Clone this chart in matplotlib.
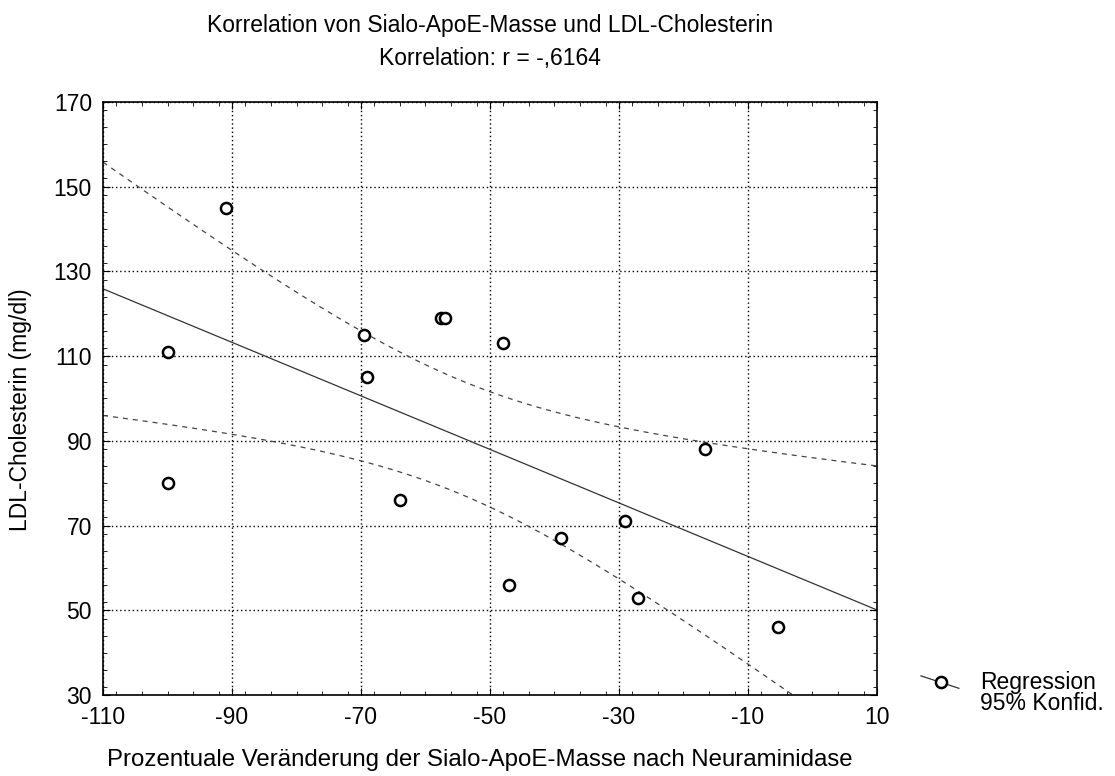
import numpy as np
import matplotlib.pyplot as plt
from matplotlib.lines import Line2D
from matplotlib.ticker import MultipleLocator

plt.rcParams['font.family'] = ['Liberation Sans', 'DejaVu Sans']
plt.rcParams['axes.unicode_minus'] = False

# Prozentuale Veraenderung Sialo-ApoE-Masse vs. LDL-Cholesterin
x = np.array([-91, -100, -100, -69.5, -69, -57.6, -57, -48, -64, -47, -39, -29, -27, -16.7, -5.4])
y = np.array([145, 111, 80, 115, 105, 119, 119, 113, 76, 56, 67, 71, 53, 88, 46])

xticks = [-110, -90, -70, -50, -30, -10, 10]
yticks = [30, 50, 70, 90, 110, 130, 150, 170]

# lineare Regression + 95%-Konfidenzband
n = len(x)
b1, b0 = np.polyfit(x, y, 1)
resid = y - (b0 + b1 * x)
s = np.sqrt(np.sum(resid**2) / (n - 2))
sxx = np.sum((x - x.mean())**2)
t = 2.160  # t(0.975, df=13)
xx = np.linspace(-110, 10, 200)
yy = b0 + b1 * xx
se = s * np.sqrt(1.0 / n + (xx - x.mean())**2 / sxx)

fs = 16.5
fig = plt.figure(figsize=(11.15, 7.76), dpi=100)
ax = fig.add_axes([0.0924, 0.1044, 0.6941, 0.7642])

ax.plot(xx, yy, color='#333333', lw=0.9)
ax.plot(xx, yy + t * se, color='#444444', lw=0.9, ls=(0, (4, 4)))
ax.plot(xx, yy - t * se, color='#444444', lw=0.9, ls=(0, (4, 4)))
ax.plot(x, y, 'o', mfc='white', mec='black', ms=8, mew=1.8, zorder=5)

ax.set_xlim(-110, 10)
ax.set_ylim(30, 170)
ax.set_xticks(xticks)
ax.set_yticks(yticks)
ax.xaxis.set_minor_locator(MultipleLocator(4))
ax.yaxis.set_minor_locator(MultipleLocator(4))
ax.tick_params(which='both', direction='in', top=True, right=True,
               labelsize=fs, color='black', pad=8)
ax.tick_params(which='major', length=5)
ax.tick_params(which='minor', length=3)
ax.grid(True, which='major', color='black', ls=(0, (1, 2)), lw=1)
for sp in ax.spines.values():
    sp.set_linewidth(1.2)

# Achsenbeschriftungen
fig.text(0.4305, 0.0206, 'Prozentuale Veränderung der Sialo-ApoE-Masse nach Neuraminidase',
         ha='center', va='center', fontsize=17.3)
fig.text(0.018, 0.4716, 'LDL-Cholesterin (mg/dl)', rotation=90,
         ha='center', va='center', fontsize=fs)

fig.text(0.4395, 0.967, 'Korrelation von Sialo-ApoE-Masse und LDL-Cholesterin',
         ha='center', va='center', fontsize=fs)
fig.text(0.4395, 0.925, 'Korrelation: r = -,6164',
         ha='center', va='center', fontsize=fs)

# Legende rechts unten
fig.lines.append(Line2D([0.826, 0.860], [0.129, 0.113], transform=fig.transFigure,
                        color='#333333', lw=0.9))
fig.lines.append(Line2D([0.8435], [0.121], transform=fig.transFigure,
                        marker='o', mfc='white', mec='black', ms=8, mew=1.8))
fig.text(0.879, 0.121, 'Regression', ha='left', va='center', fontsize=fs)
fig.text(0.879, 0.094, '95% Konfid.', ha='left', va='center', fontsize=fs)

fig.savefig('out.png', dpi=100)
